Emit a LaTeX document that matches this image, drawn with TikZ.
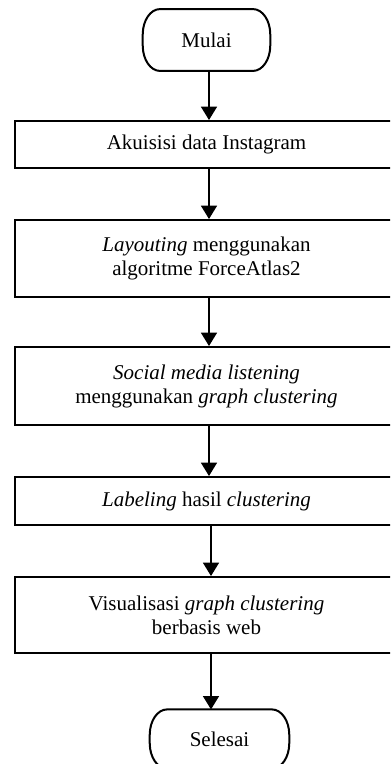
\documentclass[tikz,border=0pt]{standalone}
\usepackage{fontspec}
\setmainfont{Liberation Serif}
\usetikzlibrary{arrows.meta}
\begin{document}
\begin{tikzpicture}[x=0.75pt,y=-0.75pt,
  every node/.style={font=\fontsize{15.75}{18}\selectfont},
  procbox/.style={draw, line width=1.5pt, minimum width=287.25pt, align=center, inner sep=0pt},
  term/.style={inner sep=0pt},
  termline/.style={line width=1.5pt},
  arr/.style={line width=1pt, -{Triangle[width=12pt,length=10pt]}}]
\useasboundingbox (0,0) rectangle (390,764);
\clip (0,0) rectangle (390,764);
\newcommand\termpath[1]{%
  \draw[termline] ([xshift=13pt]#1.north west) -- ([xshift=-13pt]#1.north east)
    arc[start angle=90,end angle=0,x radius=13pt,y radius=19pt]
    -- ([yshift=19pt]#1.south east)
    arc[start angle=0,end angle=-90,x radius=13pt,y radius=19pt]
    -- ([xshift=13pt]#1.south west)
    arc[start angle=270,end angle=180,x radius=13pt,y radius=19pt]
    -- ([yshift=-19pt]#1.north west)
    arc[start angle=180,end angle=90,x radius=13pt,y radius=19pt] -- cycle;}
\node[term, minimum width=95.25pt, minimum height=46pt] (m) at (206.5,40) {Mulai};
\termpath{m}
\node[procbox, minimum height=35.25pt] (b1) at (206.5,144.5) {Akuisisi data Instagram};
\node[procbox, minimum height=57.75pt] (b2) at (206.5,258.5) {\textit{Layouting} menggunakan\\algoritme ForceAtlas2};
\node[procbox, minimum height=58.5pt] (b3) at (206.5,386) {\textit{Social media listening}\\menggunakan \textit{graph clustering}};
\node[procbox, minimum height=36pt] (b4) at (206.5,501) {\textit{Labeling} hasil \textit{clustering}};
\node[procbox, minimum height=57pt] (b5) at (206.5,615) {Visualisasi \textit{graph clustering}\\berbasis web};
\node[term, minimum width=104.25pt, minimum height=44pt] (s) at (219.5,739) {Selesai};
\termpath{s}
\coordinate (ax) at (209,0);
\coordinate (ay) at (211,0);
\draw[arr] (m.south -| ax) -- (b1.north -| ax);
\draw[arr] (b1.south -| ax) -- (b2.north -| ax);
\draw[arr] (b2.south -| ax) -- (b3.north -| ax);
\draw[arr] (b3.south -| ax) -- (b4.north -| ax);
\draw[arr] (b4.south -| ay) -- (b5.north -| ay);
\draw[arr] (b5.south -| ay) -- (s.north -| ay);
\end{tikzpicture}
\end{document}
